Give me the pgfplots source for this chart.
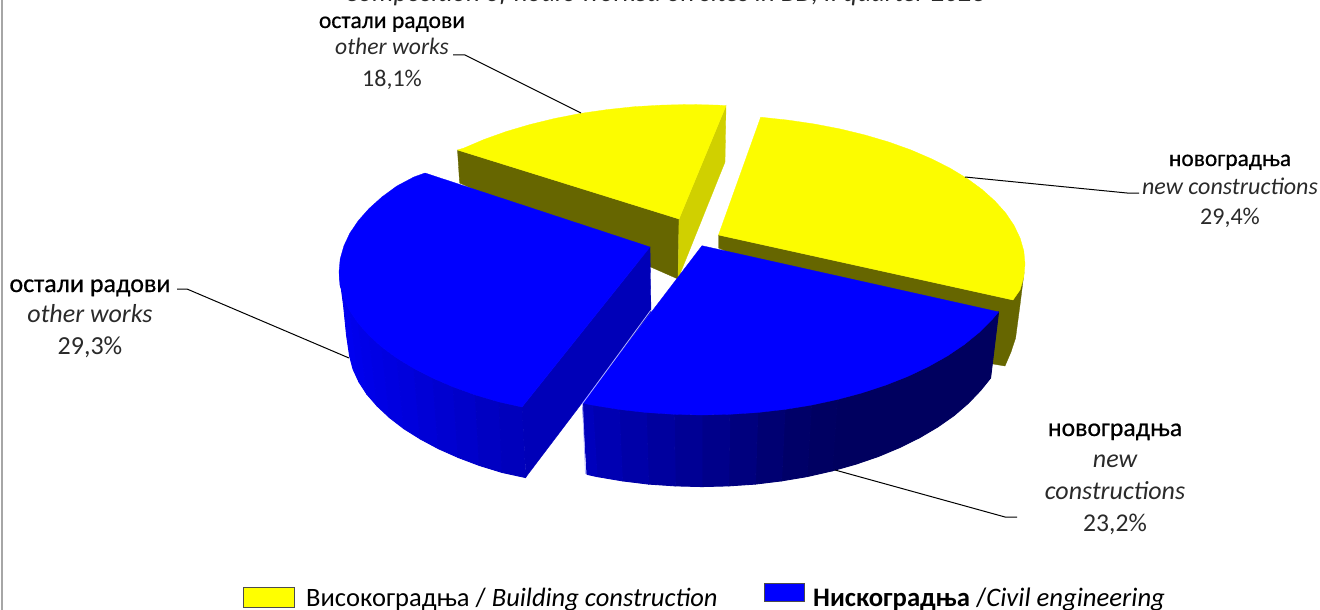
\documentclass[border=0pt]{standalone}
\usepackage{pgfplots}
\pgfplotsset{compat=1.18}
\usepackage{fontspec}
\setmainfont{Carlito}
\definecolor{txt}{HTML}{2A2A2A}
\definecolor{ytop}{RGB}{252,252,0}
\definecolor{yleg}{RGB}{255,255,0}
\definecolor{ydark}{RGB}{102,102,0}
\definecolor{ymid}{RGB}{208,208,0}
\definecolor{btop}{RGB}{0,0,255}
\definecolor{binner}{RGB}{0,0,184}
\newcommand{\poly}[2]{\addplot[fill=#1,draw=#1,line width=0.3pt,forget plot] coordinates {#2} -- cycle;}
\newcommand{\bs}[2]{\definecolor{bs#1}{RGB}{0,0,#1}\addplot[fill=bs#1,draw=bs#1,line width=0.9pt,line join=round,forget plot] coordinates {#2} -- cycle;}
\newcommand{\leader}[1]{\addplot[black,line width=1pt,forget plot] coordinates {#1};}
\newcommand{\tl}[5]{\node[anchor=base,inner sep=0pt,text=#3,font=\fontsize{#5}{#5}\selectfont] at (axis cs:#1,#2) {#4};}
\newcommand{\hd}[4]{\node[anchor=base,inner sep=0pt,text=black,font=\fontsize{#4}{#4}\selectfont\addfontfeature{FakeBold=0.6}] at (axis cs:#1,#2) {#3};}
\begin{document}
\begin{tikzpicture}[x=1pt,y=1pt]
\path[use as bounding box] (0,0) rectangle (1320,610);
\clip (0,0) rectangle (1320,610);
\begin{axis}[at={(0,0)},anchor=south west,scale only axis,width=1320pt,height=610pt,
  xmin=0,xmax=1320,ymin=0,ymax=610,y dir=reverse,axis lines=none,clip=false,ticks=none]
% frame
\addplot[color=black!35,line width=1.2pt,forget plot] coordinates {(2,0) (2,610)};
% yellow, other works: walls
\poly{ydark}{(457.5,150) (679,219) (678,279) (459.6,183)}
\poly{ymid}{(726,105.7) (679,219) (678,279) (725,162)}
% yellow, other works: top
\poly{ytop}{(457.5,150) (463.8,148.1) (484.2,139.4) (506.3,131.5) (530,124.5) (554.6,118.5) (580.6,113.4) (607.1,109.6) (634.3,106.7) (662.2,105.1) (690,104.5) (717.8,105.1) (726,105.7) (679,219)}
% yellow, new constructions: wall
\poly{ydark}{(718.5,235) (1013,300) (1024,273) (1020,305) (1018,320) (1015.6,338) (1011,352) (1005,366) (993,364) (718.5,248)}
% yellow, new constructions: top
\poly{ytop}{(760.7,117.2) (787.9,120.1) (814.4,124) (840.4,129) (865,135) (888.7,142) (910.8,149.9) (931.2,158.7) (950.1,168.2) (967.1,178.5) (982.1,189.5) (994.9,201) (1005.7,213) (1014,225.4) (1020.1,238.1) (1023.8,251) (1025,264) (1023.8,277) (1020.1,289.9) (1013,300) (718.5,235)}
% blue, other works: outer wall
\bs{240}{(349.9,310.9) (343.9,298.1) (340.2,285.1) (339.5,272) (341.5,290) (343.5,305) (346.5,335) (349.6,356.1) (353,369.1) (358.9,381.9)}
\bs{236}{(358.3,323.3) (349.9,310.9) (358.9,381.9) (366.9,394.3)}
\bs{232}{(369,335.4) (358.3,323.3) (366.9,394.3) (377.3,406.2)}
\bs{228}{(381.9,347) (369,335.4) (377.3,406.2) (389.6,417.7)}
\bs{224}{(396.9,358.1) (381.9,347) (389.6,417.7) (404,428.8)}
\bs{220}{(413.9,368.4) (396.9,358.1) (404,428.8) (420.3,439)}
\bs{214}{(432.8,378.1) (413.9,368.4) (420.3,439) (438.4,448.7)}
\bs{208}{(453.2,386.9) (432.8,378.1) (438.4,448.7) (458.2,457.5)}
\bs{202}{(475.3,394.9) (453.2,386.9) (458.2,457.5) (479.4,465.5)}
\bs{194}{(499,401.9) (475.3,394.9) (479.4,465.5) (502.2,472.5)}
\bs{188}{(522,407) (499,401.9) (502.2,472.5) (525.7,477.6)}
% blue, other works: inner wall
\poly{binner}{(650,247) (522,407) (526,477) (651,312)}
% blue, other works: top
\poly{btop}{(425,173) (413.9,177) (396.9,186) (381.9,197) (369,208.6) (358.3,220.7) (349.9,233.1) (343.9,245.9) (340.2,258.9) (339,272) (340.2,285.1) (343.9,298.1) (349.9,310.9) (358.3,323.3) (369,335.4) (381.9,347) (396.9,358.1) (413.9,368.4) (432.8,378.1) (453.2,386.9) (475.3,394.9) (499,401.9) (522,407) (650,247)}
% blue, new constructions: wall
\bs{95}{(837.4,399.5) (862,392.9) (885.7,385.1) (907.8,376.4) (928.2,366.7) (947.1,356.1) (964.1,344.7) (979.1,332.5) (991.9,319.8) (998.6,311.9) (990.6,378) (980.7,390.3) (968.4,403.2) (954,415.6) (937.7,427) (919.6,437.7) (899.8,447.5) (878.6,456.4) (855.8,464.2) (832.1,470.9)}
\bs{98}{(837.4,399.5) (811.4,405.1) (807.1,476.6) (832.1,470.9)}
\bs{104}{(811.4,405.1) (784.9,409.4) (781.6,480.9) (807.1,476.6)}
\bs{114}{(784.9,409.4) (757.7,412.5) (755.4,484.1) (781.6,480.9)}
\bs{126}{(757.7,412.5) (729.8,414.3) (728.7,485.9) (755.4,484.1)}
\bs{138}{(729.8,414.3) (702,415) (702,486.6) (728.7,485.9)}
\bs{148}{(702,415) (674.2,414.3) (675.3,485.9) (702,486.6)}
\bs{158}{(674.2,414.3) (646.3,412.5) (648.5,484.1) (675.3,485.9)}
\bs{168}{(646.3,412.5) (619.1,409.4) (622.4,480.9) (648.5,484.1)}
\bs{178}{(619.1,409.4) (592.6,405.1) (597,476.6) (622.4,480.9)}
\bs{188}{(592.6,405.1) (582.5,403) (587,474.4) (597,476.6)}
% blue, new constructions: top
\poly{btop}{(702,245.7) (998.6,311.9) (991.9,319.8) (979.1,332.5) (964.1,344.7) (947.1,356.1) (928.2,366.7) (907.8,376.4) (885.7,385.1) (862,392.9) (837.4,399.5) (811.4,405.1) (784.9,409.4) (757.7,412.5) (729.8,414.3) (702,415) (674.2,414.3) (646.3,412.5) (619.1,409.4) (592.6,405.1) (582,403)}
\addplot[color=blue!30!white,line width=0.8pt,forget plot] coordinates {(651,310) (582.5,403.5) (585.5,474)};
% leaders
\leader{(453,55) (465,55) (581,113)}
\leader{(1139,193) (1127,193) (965,177)}
\leader{(177,289) (187,289) (349,358)}
\leader{(1017,517) (1005,517) (835,470)}
% legend boxes
\addplot[fill=yleg,draw=black!70,line width=1pt,forget plot] coordinates {(243.5,587) (294.5,587) (294.5,607.5) (243.5,607.5)} -- cycle;
\addplot[fill=btop,draw=black!70,line width=1pt,forget plot] coordinates {(764,583) (804,583) (804,601.5) (764,601.5)} -- cycle;
% texts
\tl{665}{1.5}{txt}{\itshape Composition of  hours worked on sites in BD, II quarter 2023}{26.8}
\hd{392}{28}{остали радови}{23.6}
\tl{392}{55}{txt}{\itshape other works}{23.6}
\tl{392}{86}{txt}{18,1\%}{24}
\hd{90}{292}{остали радови}{26}
\tl{90}{322}{txt}{\itshape other works}{26}
\tl{90}{354}{txt}{29,3\%}{26}
\hd{1230}{166}{новоградња}{23.4}
\tl{1230}{194}{txt}{\itshape new constructions}{24}
\tl{1230}{224}{txt}{29,4\%}{24}
\hd{1115}{436}{новоградња}{25.7}
\tl{1115}{467}{txt}{\itshape new}{26}
\tl{1115}{499}{txt}{\itshape constructions}{26}
\tl{1115}{531}{txt}{23,2\%}{25.6}
\node[anchor=base west,inner sep=0pt,font=\fontsize{26.5}{30}\selectfont] at (axis cs:306,606.5) {Високоградња / \textit{Building construction}};
\node[anchor=base west,inner sep=0pt,font=\fontsize{26.7}{30}\selectfont] at (axis cs:813,606.5) {\textbf{Нискоградња} /\textit{Civil engineering}};
\end{axis}
\end{tikzpicture}
\end{document}
